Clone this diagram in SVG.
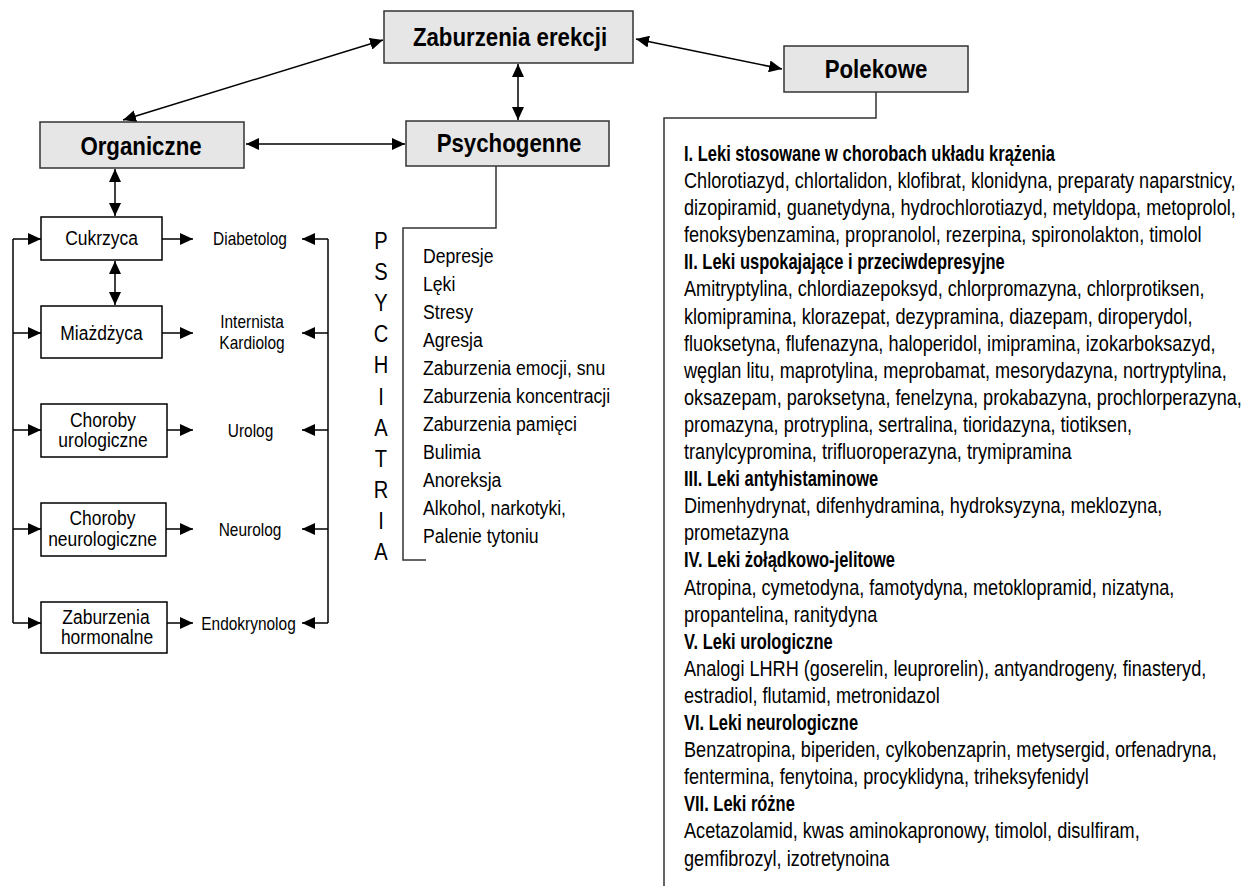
<svg xmlns="http://www.w3.org/2000/svg" width="1247" height="886" viewBox="0 0 1247 886">
<style>
text{font-family:"Liberation Sans",Arial,sans-serif;fill:#000}
.title{font-size:26.5px;font-weight:bold}
.box{font-size:20.8px}
.spec{font-size:18.4px}
.psy{font-size:21px}
.big{font-size:24px}
.lst{font-size:21.7px}
.hd{font-size:21.7px;font-weight:bold}
.tbox{fill:#e6e6e6;stroke:#333;stroke-width:1.5}
.wbox{fill:#fff;stroke:#000;stroke-width:1.5}
.ln{stroke:#000;stroke-width:1.5;fill:none}
.dl{stroke:#333;stroke-width:1.5;fill:none}
</style>
<defs>
<marker id="ah" markerUnits="userSpaceOnUse" markerWidth="14" markerHeight="12" refX="13" refY="6" orient="auto-start-reverse">
<path d="M0,0 L13,6 L0,12 z" fill="#000"/>
</marker>
</defs>
<rect width="1247" height="886" fill="#fff"/>

<g id="connectors">
<line class="ln" x1="383" y1="40" x2="123" y2="120" marker-start="url(#ah)" marker-end="url(#ah)"/>
<line class="ln" x1="636" y1="39" x2="782" y2="69" marker-start="url(#ah)" marker-end="url(#ah)"/>
<line class="ln" x1="518" y1="64" x2="518" y2="120" marker-start="url(#ah)" marker-end="url(#ah)"/>
<line class="ln" x1="246" y1="144" x2="405" y2="144" marker-start="url(#ah)" marker-end="url(#ah)"/>
<line class="ln" x1="115" y1="169" x2="115" y2="216" marker-start="url(#ah)" marker-end="url(#ah)"/>
<line class="ln" x1="115" y1="261" x2="115" y2="305" marker-start="url(#ah)" marker-end="url(#ah)"/>
<polyline class="ln" points="13,239 13,623"/>
<line class="ln" x1="13" y1="239" x2="41" y2="239" marker-end="url(#ah)"/>
<line class="ln" x1="13" y1="333" x2="41" y2="333" marker-end="url(#ah)"/>
<line class="ln" x1="13" y1="430" x2="41" y2="430" marker-end="url(#ah)"/>
<line class="ln" x1="13" y1="529" x2="41" y2="529" marker-end="url(#ah)"/>
<line class="ln" x1="13" y1="623" x2="41" y2="623" marker-end="url(#ah)"/>
<line class="ln" x1="162" y1="239" x2="193" y2="239" marker-end="url(#ah)"/>
<line class="ln" x1="162" y1="333" x2="193" y2="333" marker-end="url(#ah)"/>
<line class="ln" x1="167" y1="430" x2="193" y2="430" marker-end="url(#ah)"/>
<line class="ln" x1="166" y1="529" x2="193" y2="529" marker-end="url(#ah)"/>
<line class="ln" x1="167" y1="623" x2="193" y2="623" marker-end="url(#ah)"/>
<polyline class="ln" points="328,239 328,623"/>
<line class="ln" x1="328" y1="239" x2="302" y2="239" marker-end="url(#ah)"/>
<line class="ln" x1="328" y1="333" x2="302" y2="333" marker-end="url(#ah)"/>
<line class="ln" x1="328" y1="430" x2="302" y2="430" marker-end="url(#ah)"/>
<line class="ln" x1="328" y1="529" x2="302" y2="529" marker-end="url(#ah)"/>
<line class="ln" x1="328" y1="623" x2="302" y2="623" marker-end="url(#ah)"/>
<polyline class="dl" points="496,166 496,228 403,228 403,560 426,560"/>
<polyline class="dl" points="876,92 876,118 664,118 664,886"/>
</g>

<g id="zaburzenia-erekcji">
<rect class="tbox" x="384" y="11" width="249" height="52"/>
<text class="title" text-anchor="middle" transform="matrix(0.84 0 0 1 510 46)">Zaburzenia erekcji</text>
</g>
<g id="polekowe">
<rect class="tbox" x="784" y="46" width="184" height="46"/>
<text class="title" text-anchor="middle" transform="matrix(0.84 0 0 1 876 78)">Polekowe</text>
</g>
<g id="organiczne">
<rect class="tbox" x="40" y="122" width="204" height="46"/>
<text class="title" text-anchor="middle" transform="matrix(0.84 0 0 1 141 155)">Organiczne</text>
</g>
<g id="psychogenne">
<rect class="tbox" x="406" y="121" width="203" height="45"/>
<text class="title" text-anchor="middle" transform="matrix(0.84 0 0 1 509 152)">Psychogenne</text>
</g>

<g id="cukrzyca">
<rect class="wbox" x="41" y="217" width="121" height="43"/>
<text class="box" text-anchor="middle" transform="matrix(0.84 0 0 1 101.5 245)">Cukrzyca</text>
</g>
<g id="miazdzyca">
<rect class="wbox" x="41" y="306" width="121" height="52"/>
<text class="box" text-anchor="middle" transform="matrix(0.84 0 0 1 101.5 340)">Miażdżyca</text>
</g>
<g id="choroby-urologiczne">
<rect class="wbox" x="41" y="404" width="126" height="53"/>
<text class="box" text-anchor="middle" transform="matrix(0.84 0 0 1 103 427)">Choroby</text>
<text class="box" text-anchor="middle" transform="matrix(0.84 0 0 1 103 447)">urologiczne</text>
</g>
<g id="choroby-neurologiczne">
<rect class="wbox" x="41" y="503" width="125" height="53"/>
<text class="box" text-anchor="middle" transform="matrix(0.84 0 0 1 102.5 525)">Choroby</text>
<text class="box" text-anchor="middle" transform="matrix(0.84 0 0 1 102.5 546)">neurologiczne</text>
</g>
<g id="zaburzenia-hormonalne">
<rect class="wbox" x="41" y="602" width="126" height="51"/>
<text class="box" text-anchor="middle" transform="matrix(0.84 0 0 1 106 624)">Zaburzenia</text>
<text class="box" text-anchor="middle" transform="matrix(0.84 0 0 1 107 644)">hormonalne</text>
</g>

<g id="diabetolog"><text class="spec" text-anchor="middle" transform="matrix(0.84 0 0 1 250 245)">Diabetolog</text></g>
<g id="internista-kardiolog">
<text class="spec" text-anchor="middle" transform="matrix(0.84 0 0 1 252 328)">Internista</text>
<text class="spec" text-anchor="middle" transform="matrix(0.84 0 0 1 252 349)">Kardiolog</text>
</g>
<g id="urolog"><text class="spec" text-anchor="middle" transform="matrix(0.84 0 0 1 250.5 437)">Urolog</text></g>
<g id="neurolog"><text class="spec" text-anchor="middle" transform="matrix(0.84 0 0 1 250 536)">Neurolog</text></g>
<g id="endokrynolog"><text class="spec" text-anchor="middle" transform="matrix(0.84 0 0 1 248.5 630)">Endokrynolog</text></g>

<g id="psychiatria" transform="matrix(0.84 0 0 1 381 0)">
<text class="big" text-anchor="middle" x="0" y="249">P</text>
<text class="big" text-anchor="middle" x="0" y="280">S</text>
<text class="big" text-anchor="middle" x="0" y="311">Y</text>
<text class="big" text-anchor="middle" x="0" y="342">C</text>
<text class="big" text-anchor="middle" x="0" y="373">H</text>
<text class="big" text-anchor="middle" x="0" y="405">I</text>
<text class="big" text-anchor="middle" x="0" y="436">A</text>
<text class="big" text-anchor="middle" x="0" y="467">T</text>
<text class="big" text-anchor="middle" x="0" y="498">R</text>
<text class="big" text-anchor="middle" x="0" y="529">I</text>
<text class="big" text-anchor="middle" x="0" y="560">A</text>
</g>
<g id="psych-list" transform="matrix(0.84 0 0 1 423 0)">
<text class="psy" x="0" y="263">Depresje</text>
<text class="psy" x="0" y="291">Lęki</text>
<text class="psy" x="0" y="319">Stresy</text>
<text class="psy" x="0" y="347">Agresja</text>
<text class="psy" x="0" y="375">Zaburzenia emocji, snu</text>
<text class="psy" x="0" y="403">Zaburzenia koncentracji</text>
<text class="psy" x="0" y="431">Zaburzenia pamięci</text>
<text class="psy" x="0" y="459">Bulimia</text>
<text class="psy" x="0" y="487">Anoreksja</text>
<text class="psy" x="0" y="515">Alkohol, narkotyki,</text>
<text class="psy" x="0" y="543">Palenie tytoniu</text>
</g>

<g id="drug-headings" transform="matrix(0.76 0 0 1 684 0)">
<text class="hd" x="0" y="161">I. Leki stosowane w chorobach układu krążenia</text>
<text class="hd" x="0" y="269.4">II. Leki uspokajające i przeciwdepresyjne</text>
<text class="hd" x="0" y="486.2">III. Leki antyhistaminowe</text>
<text class="hd" x="0" y="567.5">IV. Leki żołądkowo-jelitowe</text>
<text class="hd" x="0" y="648.8">V. Leki urologiczne</text>
<text class="hd" x="0" y="730.1">VI. Leki neurologiczne</text>
<text class="hd" x="0" y="811.4">VII. Leki różne</text>
</g>
<g id="drug-list" transform="matrix(0.835 0 0 1 684 0)">
<text class="lst" x="0" y="188.1">Chlorotiazyd, chlortalidon, klofibrat, klonidyna, preparaty naparstnicy,</text>
<text class="lst" x="0" y="215.2">dizopiramid, guanetydyna, hydrochlorotiazyd, metyldopa, metoprolol,</text>
<text class="lst" x="0" y="242.3">fenoksybenzamina, propranolol, rezerpina, spironolakton, timolol</text>
<text class="lst" x="0" y="296.5">Amitryptylina, chlordiazepoksyd, chlorpromazyna, chlorprotiksen,</text>
<text class="lst" x="0" y="323.6">klomipramina, klorazepat, dezypramina, diazepam, diroperydol,</text>
<text class="lst" x="0" y="350.7">fluoksetyna, flufenazyna, haloperidol, imipramina, izokarboksazyd,</text>
<text class="lst" x="0" y="377.8">węglan litu, maprotylina, meprobamat, mesorydazyna, nortryptylina,</text>
<text class="lst" x="0" y="404.9">oksazepam, paroksetyna, fenelzyna, prokabazyna, prochlorperazyna,</text>
<text class="lst" x="0" y="432">promazyna, protryplina, sertralina, tioridazyna, tiotiksen,</text>
<text class="lst" x="0" y="459.1">tranylcypromina, trifluoroperazyna, trymipramina</text>
<text class="lst" x="0" y="513.3">Dimenhydrynat, difenhydramina, hydroksyzyna, meklozyna,</text>
<text class="lst" x="0" y="540.4">prometazyna</text>
<text class="lst" x="0" y="594.6">Atropina, cymetodyna, famotydyna, metoklopramid, nizatyna,</text>
<text class="lst" x="0" y="621.7">propantelina, ranitydyna</text>
<text class="lst" x="0" y="675.9">Analogi LHRH (goserelin, leuprorelin), antyandrogeny, finasteryd,</text>
<text class="lst" x="0" y="703">estradiol, flutamid, metronidazol</text>
<text class="lst" x="0" y="757.2">Benzatropina, biperiden, cylkobenzaprin, metysergid, orfenadryna,</text>
<text class="lst" x="0" y="784.3">fentermina, fenytoina, procyklidyna, triheksyfenidyl</text>
<text class="lst" x="0" y="838.5">Acetazolamid, kwas aminokapronowy, timolol, disulfiram,</text>
<text class="lst" x="0" y="865.6">gemfibrozyl, izotretynoina</text>
</g>
</svg>
